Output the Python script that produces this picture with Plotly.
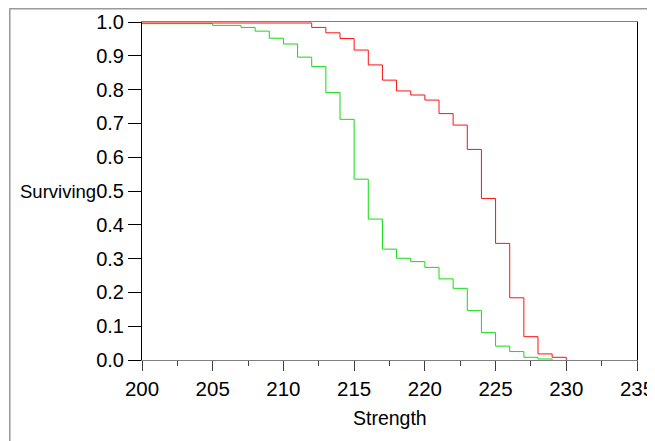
import plotly.graph_objects as go

# Data (Kaplan-Meier style step curves)
red_strength = [200, 212, 213, 214, 215, 216, 217, 218, 219, 220, 221, 222, 223,
                224, 225, 226, 227, 228, 229, 230]
red_surviving = [0.997, 0.984, 0.968, 0.951, 0.917, 0.873, 0.828, 0.796, 0.784,
                 0.769, 0.729, 0.695, 0.623, 0.478, 0.345, 0.184, 0.069, 0.018,
                 0.008, 0.0]

green_strength = [200, 205, 207, 208, 209, 210, 211, 212, 213, 214, 215, 216, 217,
                  218, 219, 220, 221, 222, 223, 224, 225, 226, 227, 228, 229]
green_surviving = [0.995, 0.990, 0.984, 0.973, 0.952, 0.935, 0.896, 0.868, 0.791,
                   0.712, 0.535, 0.417, 0.328, 0.301, 0.291, 0.274, 0.240, 0.212,
                   0.146, 0.081, 0.041, 0.025, 0.008, 0.003, 0.0]

x_ticks = [200, 205, 210, 215, 220, 225, 230, 235]
y_ticks = [0.0, 0.1, 0.2, 0.3, 0.4, 0.5, 0.6, 0.7, 0.8, 0.9, 1.0]

# page body has an 8px margin; size the figure so the page does not overflow
OFF = 8
W, H = 655 - OFF, 441 - OFF
PL, PR, PT, PB = 141.7, 636.7, 22, 360   # plot box in window pixels
L, T = PL - OFF, PT - OFF
R, B = W - (PR - OFF), H - (PB - OFF)
pw, ph = PR - PL, PB - PT


def px_x(px):
    return (px - PL) / pw


def px_y(py):
    return (PB - py) / ph


FONT = "Liberation Sans, Arial, sans-serif"

fig = go.Figure()
fig.add_trace(go.Scatter(x=green_strength, y=green_surviving, mode="lines",
                         line=dict(color="#11dd11", width=1, shape="hv"),
                         showlegend=False))
fig.add_trace(go.Scatter(x=red_strength, y=red_surviving, mode="lines",
                         line=dict(color="#ff1111", width=1, shape="hv"),
                         showlegend=False))

fig.update_layout(
    width=W, height=H,
    margin=dict(l=L, r=R, t=T, b=B, pad=0, autoexpand=False),
    paper_bgcolor="white", plot_bgcolor="white",
    font=dict(family=FONT, size=19, color="black"),
    xaxis=dict(range=[200, 235], tickvals=x_ticks, ticktext=[str(v) for v in x_ticks],
               showgrid=False, zeroline=False, showline=True, linecolor="#808080",
               linewidth=1, mirror=True, ticks="outside", ticklen=10, tickwidth=1,
               tickcolor="#404040", tickfont=dict(size=20.5, family=FONT),
               automargin=False,
               minor=dict(ticks="outside", ticklen=5, tickwidth=1, tickcolor="#404040",
                          dtick=2.5, tick0=200, showgrid=False)),
    yaxis=dict(range=[0, 1], tickvals=y_ticks, ticktext=[f"{v:.1f}" for v in y_ticks],
               showgrid=False, zeroline=False, showline=True, linecolor="black",
               linewidth=1, mirror=True, ticks="outside", ticklen=13, tickwidth=1,
               tickcolor="black", tickfont=dict(size=20, family=FONT),
               automargin=False),
    annotations=[
        dict(text="Surviving", xref="paper", yref="paper", x=px_x(18), y=0.5,
             xanchor="left", yanchor="middle", showarrow=False,
             font=dict(size=18.5, family=FONT, color="black")),
        dict(text="Strength", xref="paper", yref="paper", x=0.5, y=px_y(418),
             xanchor="center", yanchor="middle", showarrow=False,
             font=dict(size=19.5, family=FONT, color="black")),
    ],
    shapes=[
        dict(type="rect", xref="paper", yref="paper",
             x0=px_x(9.5), x1=px_x(700), y0=px_y(480), y1=px_y(8.7),
             line=dict(color="#999999", width=1.5), fillcolor="rgba(0,0,0,0)",
             layer="below"),
    ],
)

fig.write_html("out.html")
